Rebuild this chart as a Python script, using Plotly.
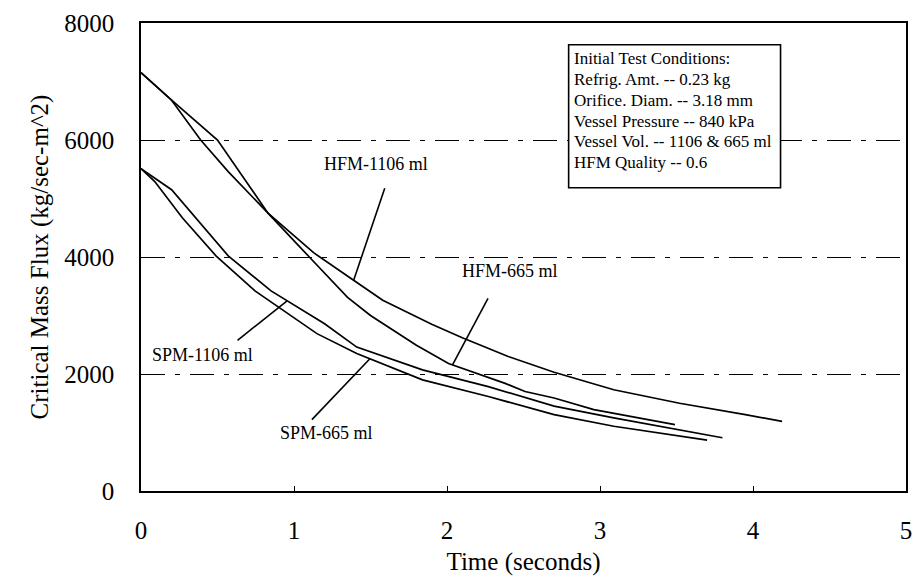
import numpy as np
import plotly.graph_objects as go

# --- measured critical mass flux vs. time ---
hfm1106_t = [0, 0.2, 0.39, 0.57, 0.83, 1.13, 1.38, 1.58, 1.9, 2.1, 2.4, 2.7, 3.09, 3.52, 3.95, 4.19]
hfm1106_g = [7150, 6680, 6000, 5460, 4750, 4070, 3620, 3260, 2850, 2620, 2300, 2030, 1730, 1500, 1305, 1190]

hfm665_t = [0, 0.2, 0.5, 0.64, 0.83, 1.1, 1.35, 1.5, 1.8, 2.01, 2.38, 2.51, 2.7, 2.96, 3.49]
hfm665_g = [7150, 6680, 6000, 5460, 4750, 4000, 3310, 3000, 2490, 2180, 1840, 1700, 1590, 1390, 1136]

spm1106_t = [0, 0.2, 0.57, 0.85, 1.2, 1.41, 1.84, 2.27, 2.7, 3.09, 3.8]
spm1106_g = [5510, 5150, 4020, 3420, 2860, 2460, 2070, 1785, 1450, 1250, 910]

spm665_t = [0, 0.09, 0.27, 0.49, 0.745, 0.885, 1.15, 1.41, 1.84, 2.27, 2.7, 3.09, 3.7]
spm665_g = [5510, 5290, 4670, 4020, 3420, 3170, 2690, 2350, 1900, 1615, 1305, 1107, 870]

series_names = ["HFM-1106 ml", "HFM-665 ml", "SPM-1106 ml", "SPM-665 ml"]
series_t = [hfm1106_t, hfm665_t, spm1106_t, spm665_t]
series_g = [hfm1106_g, hfm665_g, spm1106_g, spm665_g]

# curve labels: label centre and the time where the leader line meets the curve
label_x = [1.537, 2.412, 0.399, 1.213]
label_y = [5594, 3763, 2322, 983]
leader_from = [(1.593, 5175), (2.268, 3293), (0.631, 2576), (1.117, 1220)]
leader_tip_t = [1.39, 2.036, 0.955, 1.496]

x_ticks = [0, 1, 2, 3, 4, 5]
y_ticks = [0, 2000, 4000, 6000, 8000]

conditions = [
    "Initial Test Conditions:",
    "Refrig. Amt. -- 0.23 kg",
    "Orifice. Diam. -- 3.18 mm",
    "Vessel Pressure -- 840 kPa",
    "Vessel Vol. -- 1106 & 665 ml",
    "HFM Quality -- 0.6",
]

FONT = "Liberation Serif"
INK = "black"

fig = go.Figure()
for name, t, g in zip(series_names, series_t, series_g):
    fig.add_trace(go.Scatter(x=t, y=g, mode="lines", name=name,
                             line=dict(color=INK, width=1.7), hoverinfo="skip"))

# curve labels with leader lines
for i, name in enumerate(series_names):
    fig.add_annotation(x=label_x[i], y=label_y[i], text=name, showarrow=False,
                       font=dict(family=FONT, size=18, color=INK))
    tip_y = float(np.interp(leader_tip_t[i], series_t[i], series_g[i]))
    fig.add_shape(type="line", x0=leader_from[i][0], y0=leader_from[i][1],
                  x1=leader_tip_t[i], y1=tip_y, line=dict(color=INK, width=1.6))

# test-conditions box
box_x0, box_x1, box_y0, box_y1 = 2.795, 4.18, 5185, 7627
fig.add_shape(type="rect", x0=box_x0, x1=box_x1, y0=box_y0, y1=box_y1,
              fillcolor="white", line=dict(color=INK, width=1.6), layer="above")
row_top = 7390
row_step = 356
for k, line in enumerate(conditions):
    fig.add_annotation(x=box_x0 + 0.02, y=row_top - row_step * k, text=line,
                       showarrow=False, xanchor="left", yanchor="middle",
                       font=dict(family=FONT, size=17, color=INK))

axis_common = dict(showline=True, linecolor=INK, linewidth=1.6, mirror=True,
                   ticks="inside", ticklen=5, tickcolor=INK, tickwidth=1.3,
                   zeroline=False,
                   tickfont=dict(family=FONT, size=25, color=INK))

fig.update_xaxes(range=[0, 5], tickvals=x_ticks, showgrid=False,
                 ticklabelstandoff=16,
                 title=dict(text="Time (seconds)", font=dict(family=FONT, size=25, color=INK),
                            standoff=10),
                 **axis_common)
fig.update_yaxes(range=[0, 8000], tickvals=y_ticks, showgrid=True,
                 gridcolor=INK, gridwidth=1.3, griddash="24px,10px,5px,10px",
                 ticklabelstandoff=20,
                 title=dict(text="Critical Mass Flux (kg/sec-m^2)",
                            font=dict(family=FONT, size=25, color=INK), standoff=8),
                 **axis_common)

fig.update_layout(width=922, height=581, plot_bgcolor="white", paper_bgcolor="white",
                  showlegend=False, margin=dict(l=141, r=10, t=20, b=89))

fig.write_html("out.html")
